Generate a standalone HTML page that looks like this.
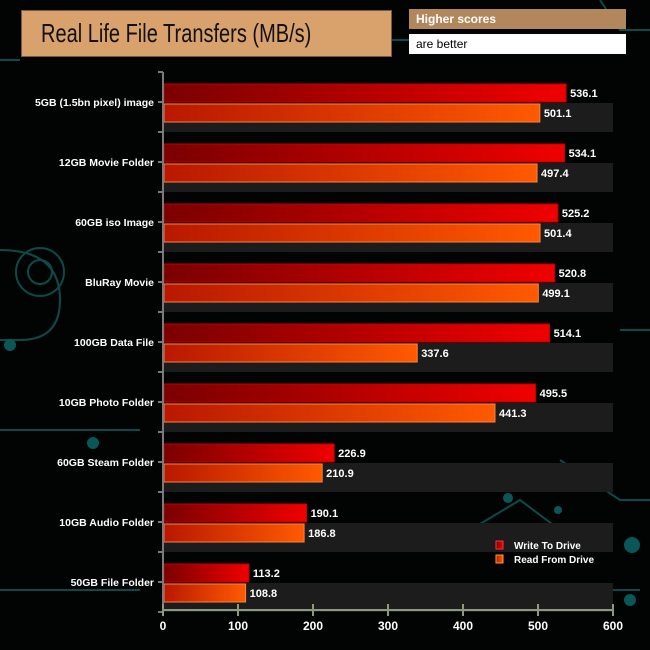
<!DOCTYPE html>
<html><head><meta charset="utf-8"><style>
body{margin:0;background:#000;}
#wrap{position:relative;width:650px;height:650px;overflow:hidden;background:#020303;font-family:"Liberation Sans",sans-serif;}
svg{position:absolute;left:0;top:0}
</style></head><body>
<div id="wrap">
<svg id="chart" width="650" height="650">
<defs>
<linearGradient id="gw" x1="0" x2="1"><stop offset="0" stop-color="#7a0000"/><stop offset="1" stop-color="#f00000"/></linearGradient>
<linearGradient id="gr" x1="0" x2="1"><stop offset="0" stop-color="#b81800"/><stop offset="1" stop-color="#ff5a00"/></linearGradient>
</defs>
<g id="deco" stroke="#0d4a4a" stroke-width="2" fill="none">
<path d="M0 60 L20 60 M390 40 L410 40 M600 0 L620 30 L650 30 M0 250 Q60 250 60 300 Q60 340 20 340 L0 340"/>
<circle cx="40" cy="272" r="12"/><circle cx="40" cy="272" r="24"/>
<path d="M0 430 L140 430 M0 590 L140 590 M620 330 L650 330 M560 460 L620 500 L650 500"/>
<path d="M470 530 L520 500 L560 530 M540 590 L640 590"/>
</g>
<g fill="#0a5757">
<circle cx="93" cy="443" r="6"/><circle cx="10" cy="345" r="6"/><circle cx="632" cy="545" r="8"/><circle cx="630" cy="600" r="6"/><circle cx="508" cy="498" r="5"/><circle cx="558" cy="510" r="4"/>
</g>
<g id="bands"></g>
<g id="bars"></g>
<g id="axes"></g>
</svg>
<div style="position:absolute;left:21px;top:10px;width:371px;height:47px;background:#d9a26c;border:1px solid #7a5a3a;box-sizing:border-box;line-height:45px;font-size:26px;color:#111;white-space:nowrap;overflow:hidden;"><span style="display:inline-block;transform:scaleX(0.77);transform-origin:0 50%;margin-left:19px;">Real Life File Transfers (MB/s)</span></div>
<div style="position:absolute;left:409px;top:9px;width:217px;height:20px;background:#b3875c;color:#fff;font-size:12px;font-weight:bold;line-height:20px;padding-left:7px;box-sizing:border-box;">Higher scores</div>
<div style="position:absolute;left:409px;top:34px;width:217px;height:20px;background:#fff;color:#000;font-size:12px;line-height:20px;padding-left:7px;box-sizing:border-box;">are better</div>
</div>
<script>
const categories=["5GB (1.5bn pixel) image","12GB Movie Folder","60GB iso Image","BluRay Movie","100GB Data File","10GB Photo Folder","60GB Steam Folder","10GB Audio Folder","50GB File Folder"];
const writeVals=[536.1,534.1,525.2,520.8,514.1,495.5,226.9,190.1,113.2];
const readVals=[501.1,497.4,501.4,499.1,337.6,441.3,210.9,186.8,108.8];
const xTicks=[0,100,200,300,400,500,600];
const NS="http://www.w3.org/2000/svg";
const x0=163,xMax=600,pw=450,top0=72,band=60;
const X=v=>x0+v/xMax*pw;
const Y=i=>top0+i*band;
function mk(tag,attrs,parent,txt){const e=document.createElementNS(NS,tag);for(const k in attrs)e.setAttribute(k,attrs[k]);if(txt!==undefined)e.textContent=txt;parent.appendChild(e);return e;}
const bands=document.getElementById('bands'),bars=document.getElementById('bars'),axes=document.getElementById('axes');
categories.forEach((c,i)=>{
 const b=mk('rect',{x:x0,y:Y(i)+31,width:pw,height:29,fill:'#1c1c1c'},bands);
 
 
 const w=mk('rect',{x:x0+1,y:Y(i)+12,width:X(writeVals[i])-x0,height:18,fill:'url(#gw)',stroke:'#c00000','stroke-width':1},bars);
 
 
 const r=mk('rect',{x:x0+1,y:Y(i)+32,width:X(readVals[i])-x0,height:18,fill:'url(#gr)',stroke:'#ff8040','stroke-width':1},bars);
 
 
 const wl=mk('text',{x:X(writeVals[i])+5,y:Y(i)+25,fill:'#fff','font-size':11,'font-weight':'bold'},bars,writeVals[i].toFixed(1));
 
 
 const rl=mk('text',{x:X(readVals[i])+5,y:Y(i)+45,fill:'#fff','font-size':11,'font-weight':'bold'},bars,readVals[i].toFixed(1));
 
 
 const cl=mk('text',{x:154,y:Y(i)+34,fill:'#fff','font-size':10.5,'font-weight':'bold','text-anchor':'end'},axes,c);
 
 
});
const ya=mk('line',{x1:x0,y1:top0,x2:x0,y2:Y(categories.length),stroke:'#7a7a7a','stroke-width':2},axes);


for(let k=0;k<=categories.length*2;k++){mk('line',{x1:x0-5,y1:top0+k*30,x2:x0,y2:top0+k*30,stroke:'#7a7a7a','stroke-width':2},axes);}
const xa=mk('line',{x1:x0,y1:610,x2:X(xMax),y2:610,stroke:'#8a9a7a','stroke-width':2},axes);


xTicks.forEach(t=>{
 mk('line',{x1:X(t),y1:604,x2:X(t),y2:616,stroke:'#8a9a7a','stroke-width':2},axes);
 const tl=mk('text',{x:X(t),y:630,fill:'#fff','font-size':12,'font-weight':'bold','text-anchor':'middle'},axes,t);
 
 
});
const lg=mk('g',{},axes);


mk('rect',{x:496,y:541,width:7,height:8,fill:'url(#gw)',stroke:'#f33'},lg);
mk('text',{x:514,y:549,fill:'#fff','font-size':10,'font-weight':'bold'},lg,'Write To  Drive');
mk('rect',{x:496,y:555,width:7,height:8,fill:'url(#gr)',stroke:'#f93'},lg);
mk('text',{x:514,y:563,fill:'#fff','font-size':10,'font-weight':'bold'},lg,'Read From  Drive');
</script>
</body></html>
